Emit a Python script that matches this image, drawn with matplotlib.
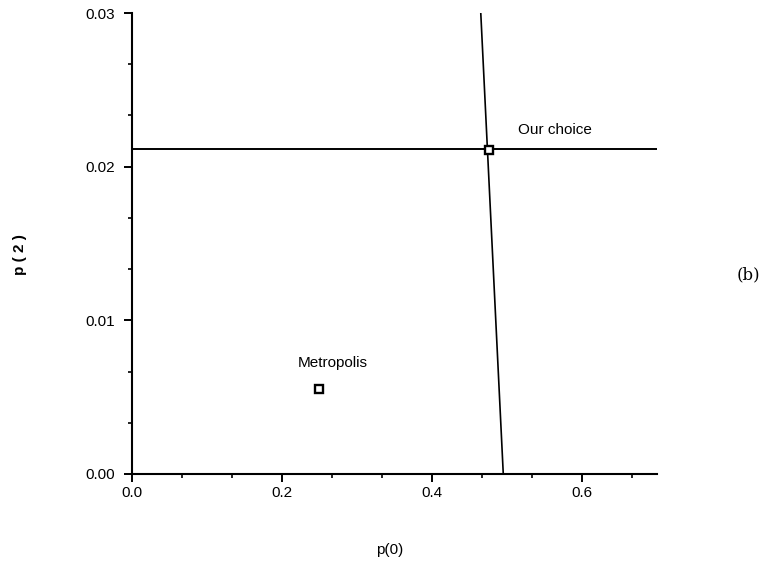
import matplotlib.pyplot as plt
from matplotlib.ticker import MultipleLocator

plt.rcParams["font.family"] = ["Liberation Sans", "DejaVu Sans"]

# horizontal constraint line
h_x = [0.0, 0.7]
h_y = [0.02115, 0.02115]

# nearly vertical constraint line
v_x = [0.465, 0.495]
v_y = [0.030, 0.000]

# points
pt_names = ["Our choice", "Metropolis"]
pt_x = [0.476, 0.249]
pt_y = [0.0211, 0.00553]
lab_x = [0.564, 0.268]
lab_y = [0.0224, 0.0072]

fig = plt.figure(figsize=(7.68, 5.68), dpi=100)
ax = fig.add_axes([0.1719, 0.1655, 0.6836, 0.8116])

ax.plot(h_x, h_y, color="black", lw=1.4)
ax.plot(v_x, v_y, color="black", lw=1.2)
ax.plot(pt_x, pt_y, ls="none", marker="s", ms=5.5, mfc="white", mec="black", mew=1.7)
for name, x, y in zip(pt_names, lab_x, lab_y):
    ax.text(x, y, name, ha="center", va="center", fontsize=11)

ax.set_xlim(0, 0.7)
ax.set_ylim(0, 0.03)
ax.spines["top"].set_visible(False)
ax.spines["right"].set_visible(False)
ax.spines["left"].set_linewidth(1.5)
ax.spines["bottom"].set_linewidth(1.5)

ax.xaxis.set_major_locator(MultipleLocator(0.2))
ax.xaxis.set_minor_locator(MultipleLocator(0.2 / 3))
ax.yaxis.set_major_locator(MultipleLocator(0.01))
ax.yaxis.set_minor_locator(MultipleLocator(0.01 / 3))
ax.xaxis.set_major_formatter(plt.FuncFormatter(lambda v, p: f"{v:.1f}"))
ax.yaxis.set_major_formatter(plt.FuncFormatter(lambda v, p: f"{v:.2f}"))
ax.tick_params(which="major", direction="out", length=6, width=1.4, labelsize=11)
ax.tick_params(axis="x", which="major", pad=3)
ax.tick_params(axis="y", which="major", pad=6)
ax.tick_params(which="minor", direction="out", length=3, width=1.2)

fig.text(20 / 768, 1 - 255 / 568, "p ( 2 )", rotation=90, ha="center", va="center",
         fontsize=11, fontweight="bold")
fig.text(390 / 768, 1 - 550 / 568, "p(0)", ha="center", va="center", fontsize=11)
fig.text(748 / 768, 1 - 275 / 568, "(b)", ha="center", va="center", fontsize=12,
         family="DejaVu Serif")

fig.savefig("out.png", dpi=100)
